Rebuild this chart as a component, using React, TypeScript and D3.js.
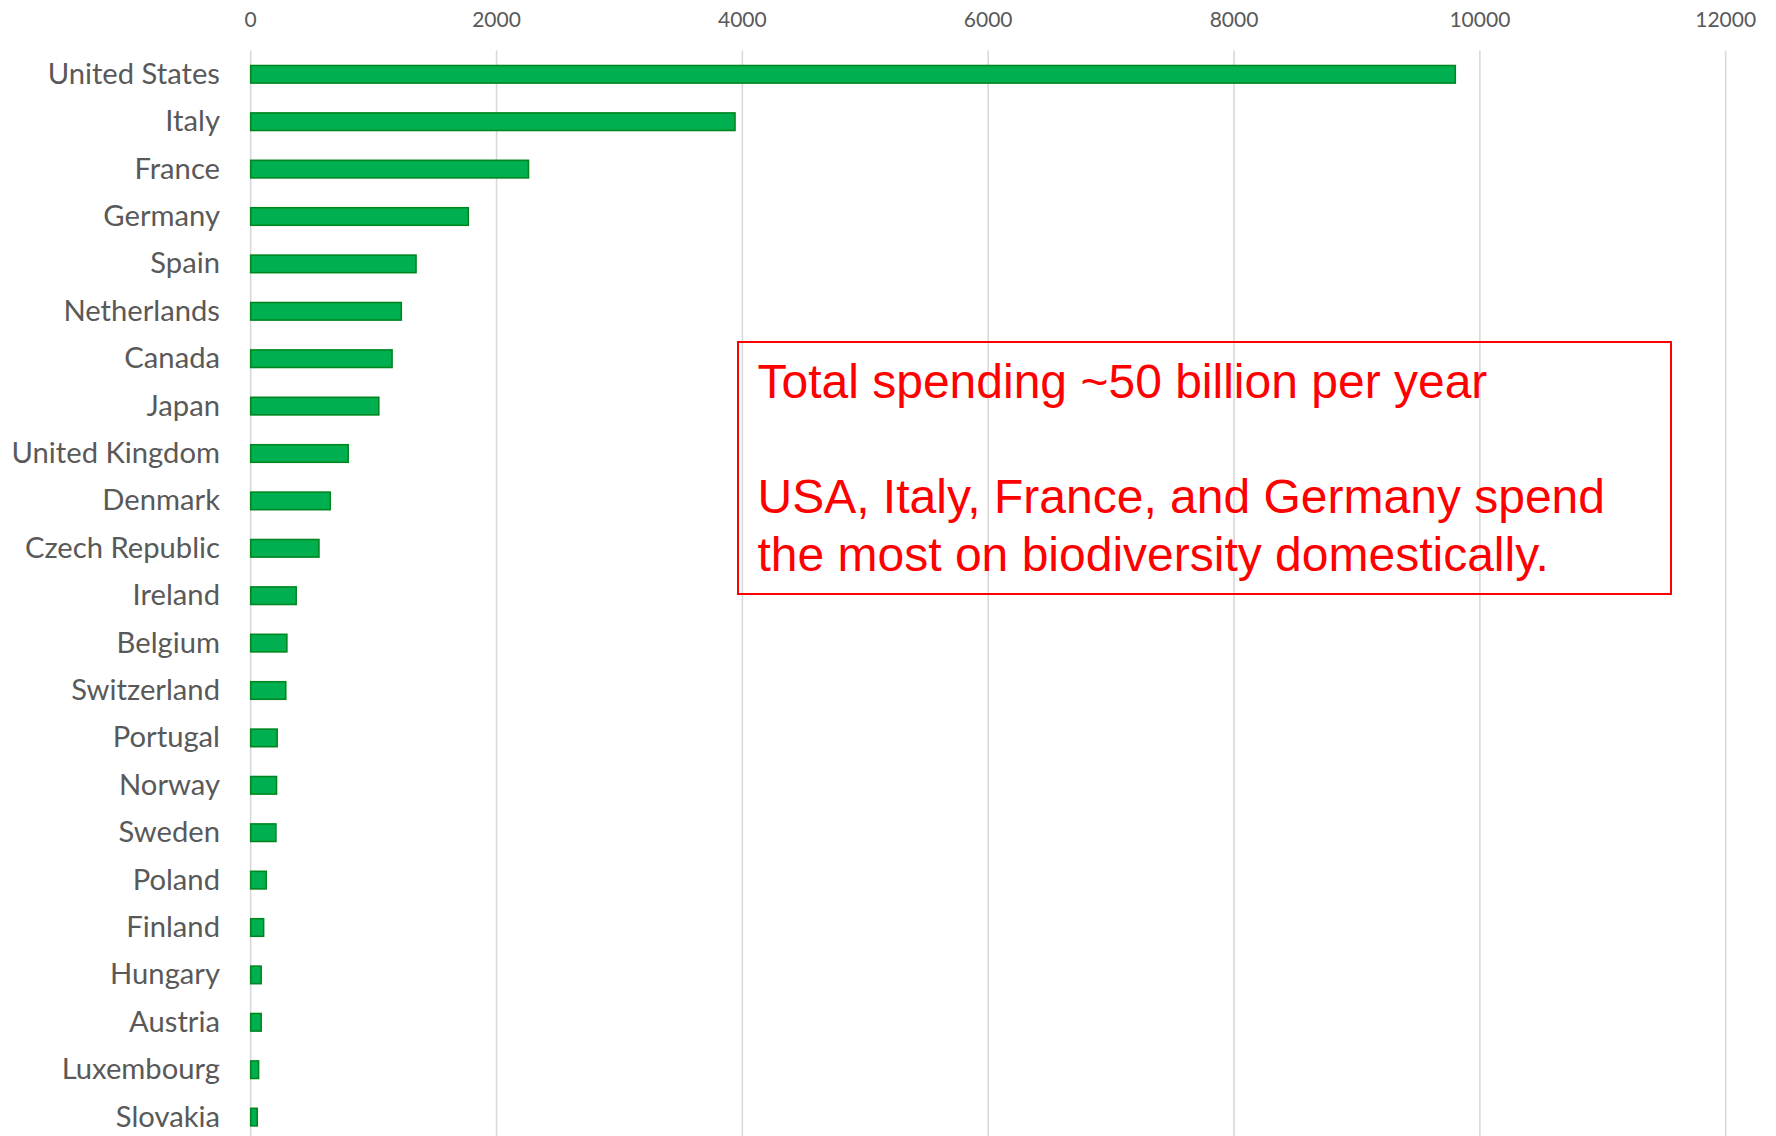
import React from "react";
import * as d3 from "d3";

const countries = [
  "United States", "Italy", "France", "Germany", "Spain", "Netherlands", "Canada", "Japan",
  "United Kingdom", "Denmark", "Czech Republic", "Ireland", "Belgium", "Switzerland", "Portugal",
  "Norway", "Sweden", "Poland", "Finland", "Hungary", "Austria", "Luxembourg", "Slovakia",
];
const spending = [
  9800, 3940, 2260, 1770, 1345, 1225, 1150, 1042, 793, 647, 555, 370, 294, 285, 215,
  210, 205, 126, 105, 85, 85, 64, 53,
];
const xTicks = [0, 2000, 4000, 6000, 8000, 10000, 12000];
const noteLines = [
  "Total spending ~50 billion per year",
  "",
  "USA, Italy, France, and Germany spend",
  "the most on biodiversity domestically.",
];

const W = 1776;
const H = 1136;

export default function App() {
  const x = d3.scaleLinear().domain([0, 12000]).range([250.7, 1725.7]);
  const step = 47.4;
  const top = 50.6;
  const y = d3
    .scaleBand<string>()
    .domain(countries)
    .range([top, top + step * countries.length])
    .paddingInner(0.63)
    .paddingOuter(0.315);
  const bw = y.bandwidth();
  const labelFont = "Lato, 'Open Sans', sans-serif";

  return (
    <svg
      width={W}
      height={H}
      viewBox={`0 0 ${W} ${H}`}
      style={{ position: "absolute", left: 0, top: 0, display: "block", background: "#fff" }}
    >
      <rect x={0} y={0} width={W} height={H} fill="#ffffff" />
      {xTicks.map((t) => (
        <g key={t}>
          <line x1={x(t)} x2={x(t)} y1={top} y2={H} stroke="#d9d9d9" strokeWidth={1.6} />
          <text
            x={x(t)}
            y={27.3}
            textAnchor="middle"
            fontFamily={labelFont}
            fontSize={21}
            fill="#595959"
          >
            {t}
          </text>
        </g>
      ))}
      {countries.map((c, i) => {
        const cy = (y(c) as number) + bw / 2;
        return (
          <g key={c}>
            <rect
              x={x(0)}
              y={y(c) as number}
              width={x(spending[i]) - x(0)}
              height={bw}
              fill="#00b050"
              stroke="#00861f"
              strokeWidth={1.6}
            />
            <text
              x={220}
              y={cy + 9.5}
              textAnchor="end"
              fontFamily={labelFont}
              fontSize={29.2}
              fill="#595959"
            >
              {c}
            </text>
          </g>
        );
      })}
      <rect x={738} y={342} width={933} height={252} fill="none" stroke="#ff0000" strokeWidth={2} />
      {noteLines.map((l, i) => (
        <text
          key={i}
          x={757.5}
          y={398 + i * 57.5}
          fontFamily="'Liberation Sans', Arial, sans-serif"
          fontSize={48}
          fill="#ff0000"
        >
          {l}
        </text>
      ))}
    </svg>
  );
}
